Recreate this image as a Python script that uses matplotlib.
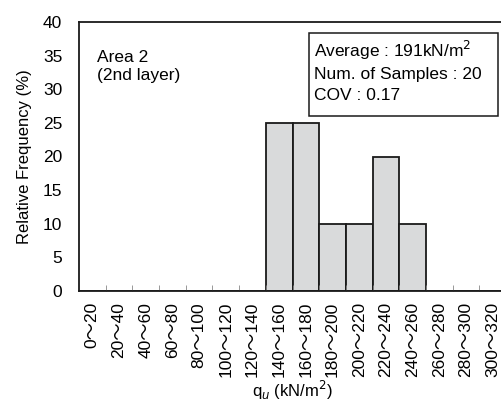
import numpy as np
import matplotlib.pyplot as plt
from matplotlib.patches import Rectangle

plt.rcParams['font.family'] = ['Liberation Sans', 'Noto Sans CJK JP']

bins_lo = np.arange(0, 320, 20)
labels = [f'{lo}\u301c{lo + 20}' for lo in bins_lo]
freq = [0, 0, 0, 0, 0, 0, 0, 25, 25, 10, 10, 20, 10, 0, 0, 0]

fig = plt.figure(figsize=(5.01, 4.04), dpi=100)
# axes run slightly past the right edge, like the cropped original
ax = fig.add_axes([79 / 501, 1 - 291 / 404, 427 / 501, 269 / 404])

x = np.arange(len(freq))
ax.bar(x, freq, width=1.0, color='#d9dadb', edgecolor='#1a1a1a', linewidth=1.3)

ax.set_xlim(-0.5, len(freq) - 0.5)
ax.set_ylim(0, 40)
ax.set_yticks(np.arange(0, 41, 5))
ax.tick_params(axis='y', length=0, labelsize=12.5, pad=12)
ax.set_xticks(x)
ax.set_xticklabels(labels, rotation=90, fontsize=12.5, va='top')
ax.tick_params(axis='x', which='major', length=0, pad=8)
ax.set_xticks(np.arange(0.5, len(freq) - 1, 1), minor=True)
ax.tick_params(axis='x', which='minor', direction='in', length=4, color='#888888')
for s in ax.spines.values():
    s.set_linewidth(1.3)
    s.set_color('#1a1a1a')

ax.set_ylabel('Relative Frequency (%)', fontsize=12, labelpad=8)
ax.set_xlabel('q$_u$ (kN/m$^2$)', fontsize=12, labelpad=1)

ax.text(0.042, 0.895, 'Area 2\n(2nd layer)', transform=ax.transAxes, fontsize=12.5,
        va='top', linespacing=1.2)

# stats box (axes fraction)
ax.add_patch(Rectangle((230 / 427, 175 / 269), 189 / 427, 83 / 269, transform=ax.transAxes,
                       facecolor='white', edgecolor='#1a1a1a', linewidth=1.1, zorder=3))
ax.text(235 / 427, 252 / 269, 'Average : 191kN/m$^2$\nNum. of Samples : 20\nCOV : 0.17',
        transform=ax.transAxes, fontsize=12.5, va='top', linespacing=1.45, zorder=4)

fig.savefig('out.png', dpi=100)
